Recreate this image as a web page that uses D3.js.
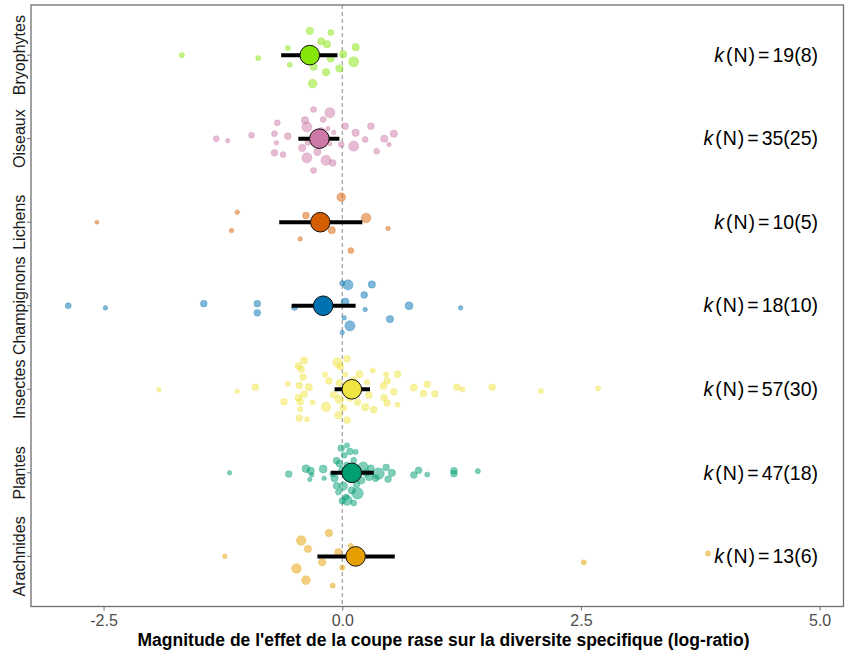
<!DOCTYPE html>
<html><head><meta charset="utf-8">
<script src="https://cdn.jsdelivr.net/npm/d3@7"></script>
<style>body{margin:0;background:#fff;} svg{display:block;font-family:"Liberation Sans",Arial,sans-serif;}</style>
</head><body><svg id="c" width="845" height="653"></svg>
<script>
// ---- data ----
const categories = ["Bryophytes","Oiseaux","Lichens","Champignons","Insectes","Plantes","Arachnides"];
const colors = ["#86E60A","#CC79A7","#D55E00","#0072B2","#F0E442","#009E73","#E69F00"];
const meanEst = [-0.34,-0.24,-0.23,-0.20,0.10,0.10,0.14];
const ciLow  = [-0.64,-0.46,-0.66,-0.53,-0.08,-0.12,-0.26];
const ciHigh = [-0.05,-0.03,0.21,0.14,0.29,0.33,0.55];
const kLabels = ["19(8)","35(25)","10(5)","18(10)","57(30)","47(18)","13(6)"];
const xTicks = [-2.5,0,2.5,5];
// effect sizes per group: [value, vertical jitter (row units), precision weight]
const bryophytes = [[-1.68,0,1.2],[-0.88,0.035,1.2],[-0.57,-0.085,1.2],[-0.55,0.115,1.2],[-0.34,-0.29,2],[-0.12,-0.27,1.5],[-0.22,-0.165,2],[-0.16,-0.13,2],[-0.30,0.14,2],[-0.17,0.205,2],[-0.31,0.34,2.5],[-0.12,0.04,2],[-0.03,0.16,2],[0.01,-0.01,2],[0.14,-0.095,2],[0.12,0.08,3],[-0.38,-0.04,2],[-0.28,0.035,2],[-0.42,0.01,1.2]];
const oiseaux = [[-1.32,0,1.5],[-1.20,0.025,1],[-0.95,-0.04,1.5],[-0.68,-0.19,1.5],[-0.71,-0.06,1.5],[-0.69,0.05,1],[-0.71,0.17,1.8],[-0.62,0.19,1.5],[-0.57,-0.03,1.8],[-0.30,-0.35,1.5],[-0.13,-0.31,3],[-0.39,-0.22,2],[-0.37,-0.14,3],[-0.20,-0.23,1.5],[-0.15,-0.12,1],[-0.09,-0.075,1],[-0.42,0.11,2],[-0.37,0.23,3],[-0.26,0.16,2],[-0.17,0.26,3],[-0.10,0.29,1.8],[-0.30,0.38,1.5],[-0.13,0.06,1],[-0.01,0.07,1.5],[0.03,-0.15,1.8],[0.14,-0.07,2],[0.12,0.09,3],[0.24,0.01,1.5],[0.30,-0.15,1.8],[0.36,0.15,1.5],[0.44,0,2],[0.49,0.07,1],[0.54,-0.06,2],[-0.36,0.045,1.5],[-0.22,-0.09,2]];
const lichens = [[-2.57,0,0.8],[-1.10,-0.12,1],[-1.16,0.10,1],[-0.44,0.2,1],[-0.38,-0.08,1.8],[-0.01,-0.30,2.5],[-0.11,0.095,2],[0.25,-0.05,2.8],[0.48,0.075,1],[0.09,0.34,1.5]];
const champignons = [[-2.87,0,1.5],[-2.48,0.025,1],[-1.45,-0.025,1.8],[-0.89,-0.025,1.8],[-0.89,0.085,1.8],[-0.50,0.02,1.5],[0.00,-0.27,1.2],[0.06,-0.25,3],[0.31,-0.255,2],[0.23,-0.13,1.8],[0.03,-0.045,2.2],[0.24,0.045,1],[0.02,0.145,1],[0.08,0.24,3],[0.00,0.32,1],[0.50,0.16,2],[0.70,0,2.2],[1.24,0.025,1]];
const insectes = [[-1.92,0.005,1],[-1.10,0.025,1],[-0.91,-0.025,1.8],[-0.57,-0.065,1.2],[-0.61,0.15,1.8],[-0.40,-0.345,2],[-0.46,-0.28,1.8],[-0.43,-0.24,1.8],[-0.41,-0.145,1.8],[-0.45,-0.045,1.8],[-0.35,-0.025,2],[-0.40,0.06,1.8],[-0.46,0.1,1.8],[-0.44,0.15,1.8],[-0.31,0.155,1.2],[-0.44,0.24,1.2],[-0.45,0.345,1.8],[-0.37,0.36,1.2],[-0.18,-0.175,1.2],[-0.14,-0.1,1.8],[-0.05,-0.32,2.8],[0.05,-0.365,1.8],[-0.02,-0.27,1.8],[-0.03,-0.075,1.8],[-0.09,0.065,1.8],[-0.03,0.12,2.5],[-0.17,0.21,2.8],[0.01,0.225,1.8],[-0.04,0.31,2],[0.05,0.37,1.8],[0.03,-0.18,1.2],[0.18,-0.18,2],[0.26,-0.085,1.2],[0.32,-0.225,1.2],[0.28,0.07,1.8],[0.16,0.155,1.8],[0.24,0.215,2],[0.33,0.245,1.8],[0.43,-0.04,1.8],[0.47,-0.1,1.8],[0.46,-0.18,1.2],[0.58,-0.18,1.8],[0.54,0.03,1.8],[0.44,0.1,1.8],[0.47,0.165,1.8],[0.58,0.185,1.2],[0.75,-0.02,2],[0.89,-0.06,1.8],[0.85,0.05,1.8],[0.97,0.055,1.8],[1.20,-0.025,1.8],[1.26,0,1.2],[1.57,-0.025,1.8],[2.08,0.02,1.2],[2.68,-0.01,1.2],[0.12,-0.11,1.8],[0.08,0.105,1.8]];
const plantes = [[-1.18,0,1],[-0.56,0.015,1.8],[-0.38,-0.05,2.2],[-0.33,-0.025,2],[-0.32,0.025,1],[-0.34,0.08,1],[-0.20,-0.045,2.2],[-0.19,0.065,1],[-0.01,-0.295,1.8],[0.05,-0.33,1.2],[0.08,-0.255,1.8],[0.14,-0.25,1.2],[0.02,-0.21,1.5],[-0.06,-0.145,1.8],[-0.03,-0.11,1.8],[-0.08,0.065,2],[-0.06,0.155,1.8],[0.01,0.16,2.5],[0.10,0.21,2],[0.16,0.245,3.5],[0.04,0.29,1.5],[0.00,0.335,1.8],[0.05,0.33,3],[0.22,-0.07,3],[0.28,0.05,2],[0.38,0.01,3.5],[0.46,-0.065,1.8],[0.52,0,2],[0.48,0.075,1.8],[0.75,0.025,1.8],[0.80,-0.03,1.8],[0.89,0.02,1.2],[1.17,-0.025,1.8],[1.17,0.01,1.8],[1.42,-0.02,1.2],[0.05,-0.09,1.8],[0.12,-0.15,1.5],[0.00,-0.03,2],[-0.10,0.015,1.5],[0.20,0.09,2],[0.15,0.135,1.8],[0.30,-0.055,1.8],[0.07,0.065,2],[-0.04,0.23,1.5],[0.12,0.36,1.5],[0.25,0,2],[0.35,0.065,1.8]];
const arachnides = [[-1.23,0,1],[-0.14,-0.28,2],[-0.43,-0.19,2.8],[-0.36,-0.09,2],[-0.04,-0.05,2],[-0.21,0.07,2],[-0.48,0.145,2.8],[0.00,0.135,1.2],[-0.38,0.285,2.5],[-0.10,0.35,1.2],[0.09,-0.125,1.2],[2.53,0.07,1.2],[3.83,-0.035,1.2]];
const groupData = [bryophytes,oiseaux,lichens,champignons,insectes,plantes,arachnides];

// ---- layout ----
const svg = d3.select("#c");
const L = 31, R = 843.5, T = 5, B = 606.5;
const x = d3.scaleLinear().domain([-3.26,5.25]).range([L,R]);
const y = d3.scalePoint().domain(categories).range([T,B]).padding(0.6);
const step = y.step();
const rScale = d3.scaleLinear().domain([1,3.5]).range([2.3,5.8]);

// zero line
svg.append("line").attr("x1",x(0)).attr("x2",x(0)).attr("y1",T).attr("y2",B)
  .attr("stroke","#888").attr("stroke-width",1).attr("stroke-dasharray","4,3");

// points
categories.forEach((c,i)=>{
  svg.append("g").selectAll("circle").data(groupData[i]).join("circle")
    .attr("cx",d=>x(d[0])).attr("cy",d=>y(c)+d[1]*step).attr("r",d=>rScale(d[2]))
    .attr("fill",colors[i]).attr("fill-opacity",0.5)
    .attr("stroke",colors[i]).attr("stroke-opacity",0.45).attr("stroke-width",0.6);
});
// CI bars
svg.append("g").selectAll("line").data(categories).join("line")
  .attr("x1",(c,i)=>x(ciLow[i])).attr("x2",(c,i)=>x(ciHigh[i]))
  .attr("y1",c=>y(c)).attr("y2",c=>y(c)).attr("stroke","#000").attr("stroke-width",4);
// means
svg.append("g").selectAll("circle").data(categories).join("circle")
  .attr("cx",(c,i)=>x(meanEst[i])).attr("cy",c=>y(c)).attr("r",9.8)
  .attr("fill",(c,i)=>colors[i]).attr("stroke","#111").attr("stroke-width",1);

// k labels
categories.forEach((c,i)=>{
  const t = svg.append("text").attr("x",818).attr("y",y(c)+6.7).attr("text-anchor","end")
    .attr("font-size",19.5).attr("fill","#000");
  t.append("tspan").attr("font-style","italic").text("k");
  t.append("tspan").attr("dx",2).text("(");
  t.append("tspan").attr("dx",1).text("N");
  t.append("tspan").attr("dx",1).text(")");
  t.append("tspan").attr("dx",3).text("=");
  t.append("tspan").attr("dx",3).text(kLabels[i]);
});

// panel border
svg.append("rect").attr("x",L).attr("y",T).attr("width",R-L).attr("height",B-T)
  .attr("fill","none").attr("stroke","#6e6e6e").attr("stroke-width",1.3);

// x axis
const xa = svg.append("g").attr("transform",`translate(0,${B})`)
  .call(d3.axisBottom(x).tickValues(xTicks).tickFormat(d=>d3.format(".1f")(d).replace("\u2212","-")).tickSize(4).tickPadding(4));
xa.select(".domain").remove();
xa.selectAll("line").attr("stroke","#6e6e6e");
xa.selectAll("text").attr("font-size",16).attr("fill","#4d4d4d").attr("font-family","Liberation Sans, Arial, sans-serif");

// y axis ticks and labels
svg.append("g").selectAll("line").data(categories).join("line")
  .attr("x1",L-4).attr("x2",L).attr("y1",c=>y(c)).attr("y2",c=>y(c)).attr("stroke","#6e6e6e");
svg.append("g").selectAll("text").data(categories).join("text")
  .attr("transform",c=>`translate(25,${y(c)}) rotate(-90)`).attr("text-anchor","middle")
  .attr("font-size",16).attr("fill","#1a1a1a").text(c=>c);

// x title
const title = svg.append("text").attr("x",443.5).attr("y",646).attr("text-anchor","middle")
  .attr("font-size",16).attr("font-weight","bold").attr("fill","#000")
  .text("Magnitude de l'effet de la coupe rase sur la diversite specifique (log-ratio)");
const w = title.node().getComputedTextLength();
title.attr("font-size", 16*612/w);
</script></body></html>
